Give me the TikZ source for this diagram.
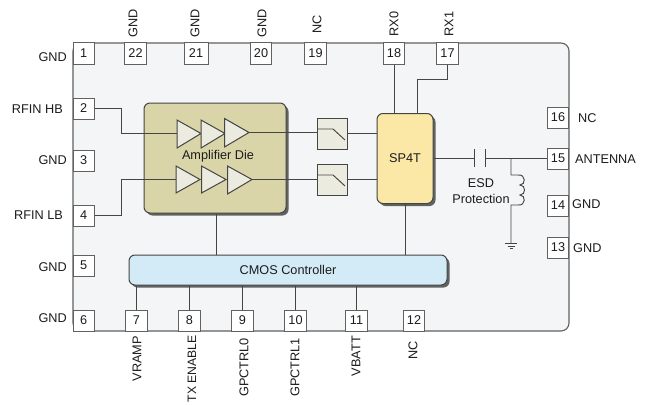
\documentclass[tikz,border=0pt]{standalone}
\usepackage{fontspec}
\setmainfont{Liberation Sans}
\usetikzlibrary{shadows}
\definecolor{chipbg}{HTML}{F3F5F7}
\definecolor{ln}{HTML}{454545}
\definecolor{diec}{HTML}{D9D5A9}
\definecolor{trif}{HTML}{ECEBDF}
\definecolor{spc}{HTML}{FCE8A6}
\definecolor{cmosc}{HTML}{D3EBF7}
\definecolor{txt}{HTML}{1C1C1C}
\tikzset{
  wire/.style={draw=ln,line width=0.95pt},
  chipbody/.style={draw=ln!85,line width=1.1pt,fill=chipbg,rounded corners=8pt},
  pinbox/.style={draw=ln!85,line width=1pt,fill=white,inner sep=0pt,minimum width=21.5pt,minimum height=21pt,font=\fontsize{12.7}{15}\selectfont,text=txt},
  lbl/.style={inner sep=0pt,font=\fontsize{12.7}{15}\selectfont,text=txt},
  lblup/.style={lbl,rotate=90},
  blockbox/.style={draw=ln,line width=1pt,rounded corners=6pt,inner sep=0pt,font=\fontsize{12.7}{15}\selectfont,text=txt,
    drop shadow={shadow xshift=2.5pt,shadow yshift=-2.5pt,fill=black,opacity=.6}},
  swbox/.style={draw=ln,line width=1pt,fill=trif,inner sep=0pt,minimum width=30pt,minimum height=31pt},
  amptri/.style={draw=ln,line width=1pt,fill=trif,line join=miter},
}
\begin{document}
\begin{tikzpicture}[x=1pt,y=-1pt]
\useasboundingbox (0,0) rectangle (647,404);
\fill[white] (0,0) rectangle (647,404);
% chip body
\draw[chipbody] (73,43) rectangle (569,331);
% blocks
\node[blockbox,fill=diec,minimum width=142pt,minimum height=110pt] (die) at (215,158) {};
\node[lbl] (dielabel) at (218,156) {Amplifier Die};
\node[blockbox,fill=spc,minimum width=56pt,minimum height=90pt] (sp) at (405,158.5) {SP4T};
\node[blockbox,fill=cmosc,minimum width=318pt,minimum height=30pt] (cmos) at (288,270) {CMOS Controller};
% pins: left
\node[pinbox] (p1) at (83.75,53.5) {1};
\node[pinbox] (p2) at (83.75,108.5) {2};
\node[pinbox] (p3) at (83.75,160.5) {3};
\node[pinbox] (p4) at (83.75,215.5) {4};
\node[pinbox] (p5) at (83.75,265.5) {5};
\node[pinbox] (p6) at (83.75,320.5) {6};
% pins: top
\node[pinbox] (p22) at (135.5,53.5) {22};
\node[pinbox,minimum width=24pt] (p21) at (196,53.5) {21};
\node[pinbox] (p20) at (261,53.5) {20};
\node[pinbox] (p19) at (315.5,53.5) {19};
\node[pinbox] (p18) at (394,53.5) {18};
\node[pinbox] (p17) at (447.5,53.5) {17};
% pins: bottom
\node[pinbox] (p7) at (136.5,320.5) {7};
\node[pinbox] (p8) at (189.5,320.5) {8};
\node[pinbox] (p9) at (242.5,320.5) {9};
\node[pinbox] (p10) at (295.5,320.5) {10};
\node[pinbox] (p11) at (356.5,320.5) {11};
\node[pinbox] (p12) at (414,320.5) {12};
% pins: right
\node[pinbox] (p16) at (558,117.5) {16};
\node[pinbox] (p15) at (558,158.5) {15};
\node[pinbox] (p14) at (558,205.5) {14};
\node[pinbox] (p13) at (558,247.5) {13};
% switches
\node[swbox] (sw1) at (332,133.5) {};
\node[swbox] (sw2) at (332,179.5) {};
% named points
\coordinate (t1in) at (177,133);
\coordinate (t1out) at (249,132.5);
\coordinate (t2in) at (176,179.5);
\coordinate (t2out) at (252,179.5);
\coordinate (ampb) at (216,214);
\coordinate (rx1bend) at (417,79);
\coordinate (capa) at (474,158.5);
\coordinate (capb) at (485,158.5);
\coordinate (junc) at (511,158.5);
\coordinate (indtop) at (511,175);
\coordinate (indbot) at (511,205);
\coordinate (gnd) at (511,243.5);
% connectors
\draw[wire] (p2.east) -- (121,108.5) -- (121,133) -- (t1in);
\draw[wire] (p4.east) -- (121,215.5) -- (121,179.5) -- (t2in);
\draw[wire] (t1out) -- (t1out -| sw1.west);
\draw[wire] (t2out) -- (sw2.west);
\draw[wire] (sw1.east) -- (sw1.east -| sp.west);
\draw[wire] (sw2.east) -- (sw2.east -| sp.west);
\draw[wire] (ampb) -- (ampb |- cmos.north);
\draw[wire] (sp.south) -- (sp.south |- cmos.north);
\draw[wire] (p18.south) -- (p18.south |- sp.north);
\draw[wire] (p17.south) |- (rx1bend) -- (rx1bend |- sp.north);
\draw[wire] (p7.north) -- (p7.north |- cmos.south);
\draw[wire] (p8.north) -- (p8.north |- cmos.south);
\draw[wire] (p9.north) -- (p9.north |- cmos.south);
\draw[wire] (p10.north) -- (p10.north |- cmos.south);
\draw[wire] (p11.north) -- (p11.north |- cmos.south);
\draw[wire] (sp.east) -- (capa);
\draw[wire] (capb) -- (p15.west);
\draw[wire] (474,149) -- (474,167);
\draw[wire] (485,149) -- (485,167);
\draw[wire] (junc) -- (indtop) -- (518,175)
  .. controls (526,174) and (526,185) .. (520,185)
  .. controls (526,185) and (526,195) .. (520,195)
  .. controls (526,195) and (526,206) .. (518,205) -- (indbot) -- (gnd);
\draw[wire] (505,243.5) -- (517,243.5);
\draw[wire] (507.5,246) -- (514.5,246);
\draw[wire] (509.5,248.5) -- (512.5,248.5);
% amplifiers
\draw[amptri] (177,120) -- (201,133.5) -- (177,148) -- cycle;
\draw[amptri] (201,120) -- (225,133.5) -- (201,148) -- cycle;
\draw[amptri] (224.5,118.5) -- (249,132.5) -- (224.5,147) -- cycle;
\draw[amptri] (176,166) -- (200,179.5) -- (176,193) -- cycle;
\draw[amptri] (201.5,166) -- (226,179.5) -- (201.5,193) -- cycle;
\draw[amptri] (227.5,166) -- (252,179.5) -- (227.5,194) -- cycle;
% switch glyphs
\draw[wire] (318,129) -- (333,129) -- (345,140);
\draw[wire] (318,175) -- (333,175) -- (345,186);
% labels: left
\node[lbl,anchor=east] (l1) at (67,57.5) {GND};
\node[lbl,anchor=east] (l2) at (63,109) {RFIN HB};
\node[lbl,anchor=east] (l3) at (67,160) {GND};
\node[lbl,anchor=east] (l4) at (63,215) {RFIN LB};
\node[lbl,anchor=east] (l5) at (67,267) {GND};
\node[lbl,anchor=east] (l6) at (67,318.5) {GND};
% labels: top
\node[lblup,anchor=west] (l22) at (133,38) {GND};
\node[lblup,anchor=west] (l21) at (195,38) {GND};
\node[lblup,anchor=west] (l20) at (262,38) {GND};
\node[lblup,anchor=west] (l19) at (317,34) {NC};
\node[lblup,anchor=west] (l18) at (394,36.5) {RX0};
\node[lblup,anchor=west] (l17) at (449,36.5) {RX1};
% labels: bottom
\node[lblup,anchor=east] (l7) at (137,336) {VRAMP};
\node[lblup,anchor=east,font=\fontsize{12.2}{14}\selectfont] (l8) at (192,335) {TX ENABLE};
\node[lblup,anchor=east] (l9) at (244,338) {GPCTRL0};
\node[lblup,anchor=east] (l10) at (295,338) {GPCTRL1};
\node[lblup,anchor=east] (l11) at (356,336) {VBATT};
\node[lblup,anchor=east] (l12) at (413,341) {NC};
% labels: right
\node[lbl,anchor=west] (l16) at (578,118) {NC};
\node[lbl,anchor=west] (l15) at (575,159) {ANTENNA};
\node[lbl,anchor=west] (l14) at (572,204.5) {GND};
\node[lbl,anchor=west] (l13) at (573,248.5) {GND};
% ESD
\node[lbl] (esd1) at (481,183.5) {ESD};
\node[lbl] (esd2) at (481,199) {Protection};
\end{tikzpicture}
\end{document}
